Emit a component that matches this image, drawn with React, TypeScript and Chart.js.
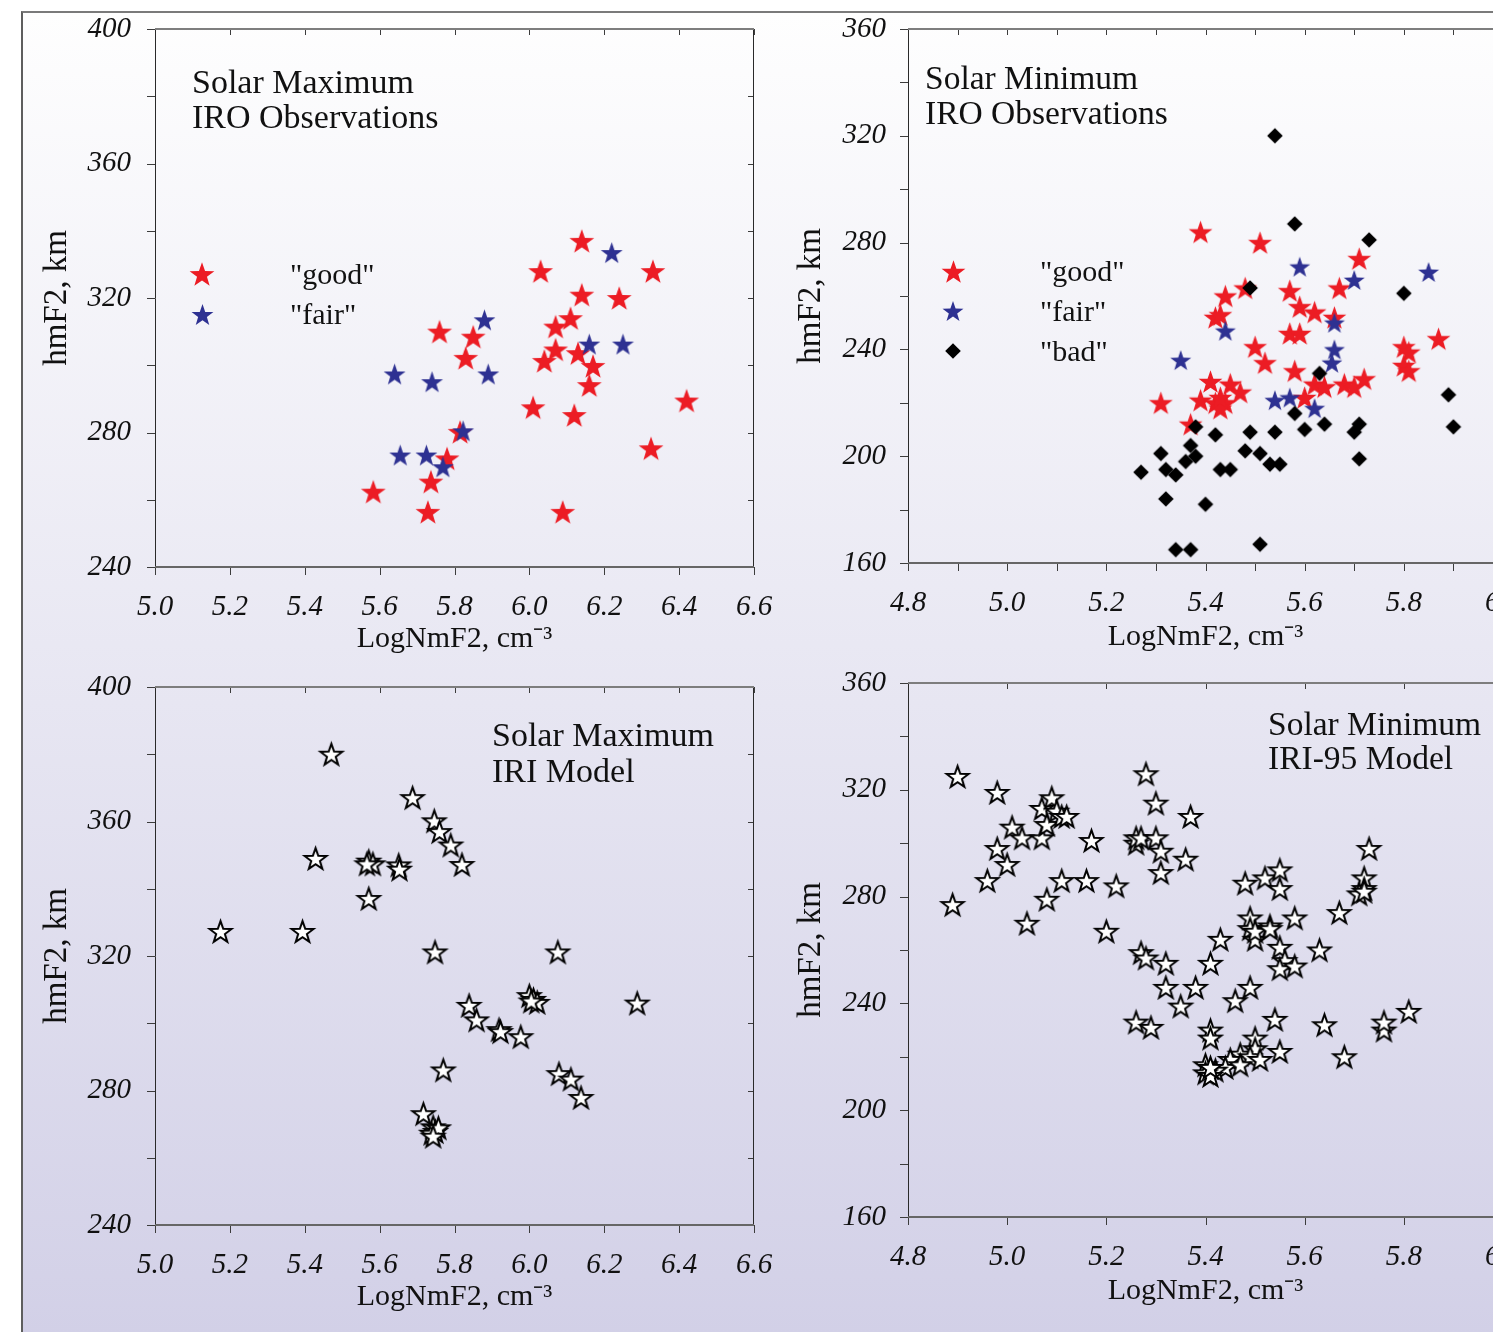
import { useEffect, useRef } from 'react';
import { Chart, registerables } from 'chart.js';

Chart.register(...registerables);

const FONT = "'Liberation Serif', 'Times New Roman', Times, serif";

// ---------------- data ----------------
// Solar maximum, IRO observations: [LogNmF2, hmF2]
const maxObsGood: [number, number][] = [
  [6.14, 337], [6.03, 328], [6.33, 328], [6.14, 321], [6.24, 320], [6.11, 314], [6.07, 311.5],
  [5.76, 310], [5.85, 308.5], [6.07, 304.7], [6.13, 303.6], [6.04, 301.3], [5.83, 302.2],
  [6.17, 299.8], [6.16, 294.1], [6.01, 287.5], [6.42, 289.5], [6.12, 285.2], [5.815, 280.2],
  [6.325, 275.3], [5.78, 272.3], [5.737, 265.4], [5.583, 262.4], [5.729, 256.4], [6.089, 256.4],
];
const maxObsFair: [number, number][] = [
  [6.22, 333.5], [5.88, 313.5], [6.16, 306.3], [6.25, 306.3], [5.64, 297.4], [5.74, 295.1],
  [5.89, 297.4], [5.823, 280.5], [5.655, 273.3], [5.725, 273.3], [5.769, 269.8],
];

// Solar minimum, IRO observations
const minObsGood: [number, number][] = [
  [5.39, 284], [5.51, 280], [5.71, 274], [5.48, 263], [5.44, 260], [5.57, 262], [5.67, 263],
  [5.42, 252], [5.43, 253], [5.59, 256], [5.62, 254], [5.66, 252], [5.50, 241], [5.52, 235],
  [5.57, 246], [5.59, 246], [5.58, 232], [5.60, 222], [5.31, 220], [5.37, 212], [5.41, 228],
  [5.39, 221], [5.42, 220], [5.44, 220], [5.43, 218], [5.45, 227], [5.47, 224], [5.43, 222],
  [5.62, 227], [5.64, 226], [5.68, 227], [5.70, 226], [5.72, 229], [5.80, 241], [5.81, 239],
  [5.80, 234], [5.81, 232], [5.87, 244],
];
const minObsFair: [number, number][] = [
  [5.59, 271], [5.70, 266], [5.85, 269], [5.44, 247], [5.35, 236], [5.66, 250], [5.66, 240],
  [5.655, 235], [5.54, 221], [5.57, 222], [5.62, 218],
];
const minObsBad: [number, number][] = [
  [5.54, 320], [5.58, 287], [5.73, 281], [5.49, 263], [5.80, 261], [5.89, 223], [5.90, 211],
  [5.63, 231], [5.58, 216], [5.60, 210], [5.64, 212], [5.71, 212], [5.70, 209], [5.71, 199],
  [5.38, 211], [5.37, 204], [5.42, 208], [5.49, 209], [5.54, 209], [5.31, 201], [5.38, 200],
  [5.36, 198], [5.48, 202], [5.51, 201], [5.27, 194], [5.32, 195], [5.34, 193], [5.43, 195],
  [5.45, 195], [5.53, 197], [5.55, 197], [5.32, 184], [5.40, 182], [5.34, 165], [5.37, 165],
  [5.51, 167],
];

// Solar maximum, IRI model
const maxModel: [number, number][] = [
  [5.471, 380], [5.688, 367.1], [5.746, 360.2], [5.76, 357], [5.79, 353], [5.82, 347.2],
  [5.429, 349], [5.571, 348.2], [5.582, 347.4], [5.566, 347.4], [5.651, 347.1], [5.653, 345.8],
  [5.571, 337.1], [5.175, 327.3], [5.394, 327.3], [5.748, 321.2], [6.076, 321.2], [6.0, 308.2],
  [6.011, 307.1], [6.021, 306.2], [6.005, 306.6], [6.288, 306], [5.839, 305.3], [5.859, 301],
  [5.919, 298.1], [5.923, 297.5], [5.977, 296], [5.77, 286.1], [6.079, 285], [6.111, 283.4],
  [6.138, 277.9], [5.717, 273.1], [5.743, 269.2], [5.749, 267.8], [5.739, 267.3], [5.757, 268.9],
  [5.743, 266.4],
];

// Solar minimum, IRI-95 model
const minModel: [number, number][] = [
  [4.90, 325], [4.98, 319], [4.89, 277], [4.96, 286], [4.98, 298], [5.00, 292], [5.01, 306],
  [5.03, 302], [5.04, 270], [5.07, 302], [5.08, 279], [5.07, 313], [5.08, 307], [5.09, 317],
  [5.10, 312], [5.11, 310], [5.12, 310], [5.11, 286], [5.16, 286], [5.17, 301], [5.20, 267],
  [5.22, 284], [5.26, 300], [5.26, 302], [5.27, 302], [5.28, 326], [5.30, 315], [5.30, 302],
  [5.31, 297], [5.31, 289], [5.37, 310], [5.36, 294], [5.27, 259], [5.28, 257], [5.32, 255],
  [5.32, 246], [5.35, 239], [5.38, 246], [5.26, 233], [5.29, 231], [5.41, 255], [5.43, 264],
  [5.48, 285], [5.52, 287], [5.55, 290], [5.55, 283], [5.49, 272], [5.49, 268], [5.50, 264],
  [5.50, 267], [5.53, 269], [5.53, 268], [5.55, 261], [5.58, 272], [5.56, 256], [5.55, 253],
  [5.58, 254], [5.63, 260], [5.67, 274], [5.73, 298], [5.72, 287], [5.72, 283], [5.71, 281],
  [5.72, 282], [5.46, 241], [5.49, 246], [5.54, 234], [5.64, 232], [5.68, 220], [5.76, 230],
  [5.76, 233], [5.81, 237], [5.41, 230], [5.41, 227], [5.50, 227], [5.50, 223], [5.47, 221],
  [5.49, 220], [5.51, 219], [5.55, 222], [5.45, 219], [5.44, 216], [5.47, 217], [5.42, 215],
  [5.40, 217], [5.40, 214], [5.41, 213], [5.41, 216],
];

const panelTitles = {
  maxObs: ['Solar Maximum', 'IRO Observations'],
  minObs: ['Solar Minimum', 'IRO Observations'],
  maxModel: ['Solar Maximum', 'IRI Model'],
  minModel: ['Solar Minimum', 'IRI-95 Model'],
};
const qualityLabels = ['"good"', '"fair"', '"bad"'];
const xTitle = 'LogNmF2, cm\u207B\u00B3';
const yTitle = 'hmF2, km';

// ---------------- markers ----------------
function makeStar(rOuter: number, fill: string, stroke?: string, lw = 0) {
  const pad = lw + 1;
  const size = Math.ceil(2 * rOuter + 2 * pad);
  const c = document.createElement('canvas');
  c.width = size;
  c.height = size;
  const ctx = c.getContext('2d')!;
  const cx = size / 2;
  const cy = size / 2 + (rOuter - rOuter * Math.cos(Math.PI / 5)) / 2;
  const rInner = rOuter * 0.4;
  ctx.beginPath();
  for (let i = 0; i < 10; i++) {
    const r = i % 2 === 0 ? rOuter : rInner;
    const a = -Math.PI / 2 + (i * Math.PI) / 5;
    const px = cx + r * Math.cos(a);
    const py = cy + r * Math.sin(a);
    if (i === 0) ctx.moveTo(px, py);
    else ctx.lineTo(px, py);
  }
  ctx.closePath();
  ctx.fillStyle = fill;
  ctx.fill();
  if (stroke) {
    ctx.lineWidth = lw;
    ctx.strokeStyle = stroke;
    ctx.lineJoin = 'miter';
    ctx.stroke();
  }
  return c;
}

function makeDiamond(half: number, fill: string) {
  const size = Math.ceil(2 * half + 2);
  const c = document.createElement('canvas');
  c.width = size;
  c.height = size;
  const ctx = c.getContext('2d')!;
  const m = size / 2;
  ctx.beginPath();
  ctx.moveTo(m, m - half);
  ctx.lineTo(m + half, m);
  ctx.lineTo(m, m + half);
  ctx.lineTo(m - half, m);
  ctx.closePath();
  ctx.fillStyle = fill;
  ctx.fill();
  return c;
}

// ---------------- plugins ----------------
const frameTicksPlugin = {
  id: 'frameTicks',
  beforeDatasetsDraw(chart: any) {
    const { ctx, chartArea: a, scales } = chart;
    const xs = scales.x;
    const ys = scales.y;
    ctx.save();
    ctx.strokeStyle = '#3c3c3c';
    ctx.lineWidth = 1;
    ctx.beginPath();
    for (const t of xs.ticks) {
      const px = Math.round(xs.getPixelForValue(t.value)) + 0.5;
      ctx.moveTo(px, a.bottom);
      ctx.lineTo(px, a.bottom + 8);
      ctx.moveTo(px, a.top);
      ctx.lineTo(px, a.top + 6);
    }
    for (const t of ys.ticks) {
      const py = Math.round(ys.getPixelForValue(t.value)) + 0.5;
      ctx.moveTo(a.left - 8, py);
      ctx.lineTo(a.left, py);
      ctx.moveTo(a.right, py);
      ctx.lineTo(a.right - 6, py);
    }
    ctx.stroke();
    // frame
    ctx.lineWidth = 1;
    ctx.strokeStyle = '#2a2a2a';
    ctx.beginPath();
    ctx.moveTo(Math.round(a.left) + 0.5, a.top);
    ctx.lineTo(Math.round(a.left) + 0.5, a.bottom + 1);
    ctx.moveTo(Math.round(a.right) - 0.5, a.top);
    ctx.lineTo(Math.round(a.right) - 0.5, a.bottom + 1);
    ctx.stroke();
    ctx.lineWidth = 2;
    ctx.strokeStyle = '#7d7d7d';
    ctx.beginPath();
    ctx.moveTo(a.left, Math.round(a.top));
    ctx.lineTo(a.right, Math.round(a.top));
    ctx.stroke();
    ctx.strokeStyle = '#666';
    ctx.beginPath();
    ctx.moveTo(a.left, Math.round(a.bottom));
    ctx.lineTo(a.right, Math.round(a.bottom));
    ctx.stroke();
    ctx.restore();
  },
};

const panelTextPlugin = {
  id: 'panelText',
  afterDatasetsDraw(chart: any, _args: any, opts: any) {
    const { ctx, chartArea: a } = chart;
    ctx.save();
    ctx.fillStyle = '#111';
    ctx.textAlign = 'left';
    ctx.textBaseline = 'alphabetic';
    ctx.font = `${opts.titleSize}px ${FONT}`;
    (opts.title || []).forEach((line: string, i: number) => {
      ctx.fillText(line, a.left + opts.titleDx, a.top + opts.titleDy + i * opts.titleGap);
    });
    if (opts.legend) {
      ctx.font = `${opts.legendSize}px ${FONT}`;
      ctx.textBaseline = 'middle';
      chart.data.datasets.forEach((ds: any, i: number) => {
        const img = ds.pointStyle;
        const y = a.top + opts.legendDy + i * opts.legendGap;
        const mx = a.left + opts.legendMarkerDx;
        ctx.drawImage(img, Math.round(mx - img.width / 2), Math.round(y - img.height / 2));
        ctx.fillText(ds.label, a.left + opts.legendTextDx, y + 2);
      });
    }
    ctx.restore();
  },
};

// ---------------- chart factory ----------------
type PanelCfg = {
  datasets: any[];
  xMin: number;
  xMax: number;
  xStep: number;
  xLabelEvery: number; // in tenths
  yMin: number;
  yMax: number;
  padding: { left: number; top: number; right: number; bottom: number };
  yWidth: number;
  yTickPad: number;
  yTitlePad: number;
  xTitlePad: number;
  text: any;
};

function buildConfig(p: PanelCfg): any {
  return {
    type: 'scatter',
    data: { datasets: p.datasets },
    plugins: [frameTicksPlugin, panelTextPlugin],
    options: {
      animation: false,
      responsive: false,
      devicePixelRatio: 1,
      events: [],
      layout: { padding: p.padding },
      plugins: {
        legend: { display: false },
        tooltip: { enabled: false },
        panelText: p.text,
      },
      scales: {
        x: {
          type: 'linear',
          min: p.xMin,
          max: p.xMax,
          afterFit: (s: any) => {
            s.height = 90;
          },
          grid: { display: false, drawTicks: true, tickLength: 23 },
          border: { display: false },
          ticks: {
            stepSize: p.xStep,
            autoSkip: false,
            maxRotation: 0,
            minRotation: 0,
            padding: 0,
            color: '#111',
            font: { family: FONT, size: 29, style: 'italic', lineHeight: 1.2 },
            callback: (v: number) => {
              const t = Math.round(v * 10);
              return t % p.xLabelEvery === 0 ? (t / 10).toFixed(1) : '';
            },
          },
          title: {
            display: true,
            text: xTitle,
            color: '#111',
            font: { family: FONT, size: 30, lineHeight: 1 },
            padding: { top: 0, bottom: p.xTitlePad },
          },
        },
        y: {
          type: 'linear',
          min: p.yMin,
          max: p.yMax,
          afterFit: (s: any) => {
            s.width = p.yWidth;
          },
          grid: { display: false, drawTicks: true, tickLength: p.yTickPad },
          border: { display: false },
          ticks: {
            stepSize: 20,
            autoSkip: false,
            padding: 0,
            color: '#111',
            font: { family: FONT, size: 29, style: 'italic', lineHeight: 1.2 },
            callback: (v: number) => (Math.round(v) % 40 === 0 ? String(Math.round(v)) : ''),
          },
          title: {
            display: true,
            text: yTitle,
            color: '#111',
            font: { family: FONT, size: 33, lineHeight: 1 },
            padding: { top: p.yTitlePad, bottom: 0 },
          },
        },
      },
    },
  };
}

const toPts = (arr: [number, number][]) => arr.map(([x, y]) => ({ x, y }));

function ChartCanvas({ make, left, top, width, height }: any) {
  const ref = useRef<HTMLCanvasElement>(null);
  useEffect(() => {
    const chart = new Chart(ref.current!, make());
    return () => chart.destroy();
  }, []);
  return (
    <canvas
      ref={ref}
      width={width}
      height={height}
      style={{ position: 'absolute', left, top, width, height }}
    />
  );
}

export default function App() {
  const redStarBig = () => makeStar(13, '#ec1c24');
  const blueStarBig = () => makeStar(11.5, '#2e3192');
  const redStar = () => makeStar(12.5, '#ec1c24');
  const blueStar = () => makeStar(11, '#2e3192');
  const openStar = () => makeStar(11.5, '#ffffff', '#000000', 2);
  const diamond = () => makeDiamond(7.8, '#000000');

  const ds = (label: string, arr: [number, number][], style: HTMLCanvasElement, order: number) => ({
    label,
    data: toPts(arr),
    pointStyle: style,
    pointRadius: 10,
    showLine: false,
    order,
  });

  const makeTL = () =>
    buildConfig({
      datasets: [
        ds(qualityLabels[0], maxObsGood, redStarBig(), 2),
        ds(qualityLabels[1], maxObsFair, blueStarBig(), 1),
      ],
      xMin: 5.0, xMax: 6.6, xStep: 0.2, xLabelEvery: 2,
      yMin: 240, yMax: 400,
      padding: { left: 20, top: 29, right: 36, bottom: 23 },
      yWidth: 135, yTickPad: 24, yTitlePad: 21, xTitlePad: 3,
      text: {
        title: panelTitles.maxObs, titleSize: 34, titleDx: 37, titleDy: 64, titleGap: 35,
        legend: true, legendSize: 30, legendDy: 245, legendGap: 40, legendMarkerDx: 47, legendTextDx: 135,
      },
    });

  const makeTR = () =>
    buildConfig({
      datasets: [
        ds(qualityLabels[0], minObsGood, redStar(), 3),
        ds(qualityLabels[1], minObsFair, blueStar(), 2),
        ds(qualityLabels[2], minObsBad, diamond(), 1),
      ],
      xMin: 4.8, xMax: 6.0, xStep: 0.1, xLabelEvery: 2,
      yMin: 160, yMax: 360,
      padding: { left: 20, top: 29, right: 57, bottom: 27 },
      yWidth: 128, yTickPad: 22, yTitlePad: 15, xTitlePad: 1,
      text: {
        title: panelTitles.minObs, titleSize: 33.5, titleDx: 17, titleDy: 60, titleGap: 35,
        legend: true, legendSize: 30, legendDy: 242, legendGap: 40, legendMarkerDx: 45, legendTextDx: 132,
      },
    });

  const makeBL = () =>
    buildConfig({
      datasets: [ds('IRI', maxModel, openStar(), 1)],
      xMin: 5.0, xMax: 6.6, xStep: 0.2, xLabelEvery: 2,
      yMin: 240, yMax: 400,
      padding: { left: 20, top: 27, right: 36, bottom: 17 },
      yWidth: 135, yTickPad: 24, yTitlePad: 21, xTitlePad: 3,
      text: { title: panelTitles.maxModel, titleSize: 34, titleDx: 337, titleDy: 59, titleGap: 36, legend: false },
    });

  const makeBR = () =>
    buildConfig({
      datasets: [ds('IRI-95', minModel, openStar(), 1)],
      xMin: 4.8, xMax: 6.0, xStep: 0.2, xLabelEvery: 2,
      yMin: 160, yMax: 360,
      padding: { left: 20, top: 23, right: 57, bottom: 25 },
      yWidth: 128, yTickPad: 22, yTitlePad: 15, xTitlePad: 1,
      text: { title: panelTitles.minModel, titleSize: 33.5, titleDx: 360, titleDy: 52, titleGap: 34, legend: false },
    });

  return (
    <div
      style={{
        position: 'fixed',
        left: 0,
        top: 0,
        width: 1493,
        height: 1332,
        overflow: 'hidden',
        background: '#ffffff',
      }}
    >
      <div
        style={{
          position: 'absolute',
          left: 21,
          top: 11,
          width: 1500,
          height: 1340,
          boxSizing: 'border-box',
          borderLeft: '2px solid #5e5e5e',
          borderTop: '2px solid #7a7a7a',
          background: 'linear-gradient(to bottom, #fefefe 0px, #d2d0e7 1321px)',
        }}
      />
      <ChartCanvas make={makeTL} left={0} top={0} width={790} height={680} />
      <ChartCanvas make={makeTR} left={760} top={0} width={800} height={680} />
      <ChartCanvas make={makeBL} left={0} top={660} width={790} height={672} />
      <ChartCanvas make={makeBR} left={760} top={660} width={800} height={672} />
    </div>
  );
}
